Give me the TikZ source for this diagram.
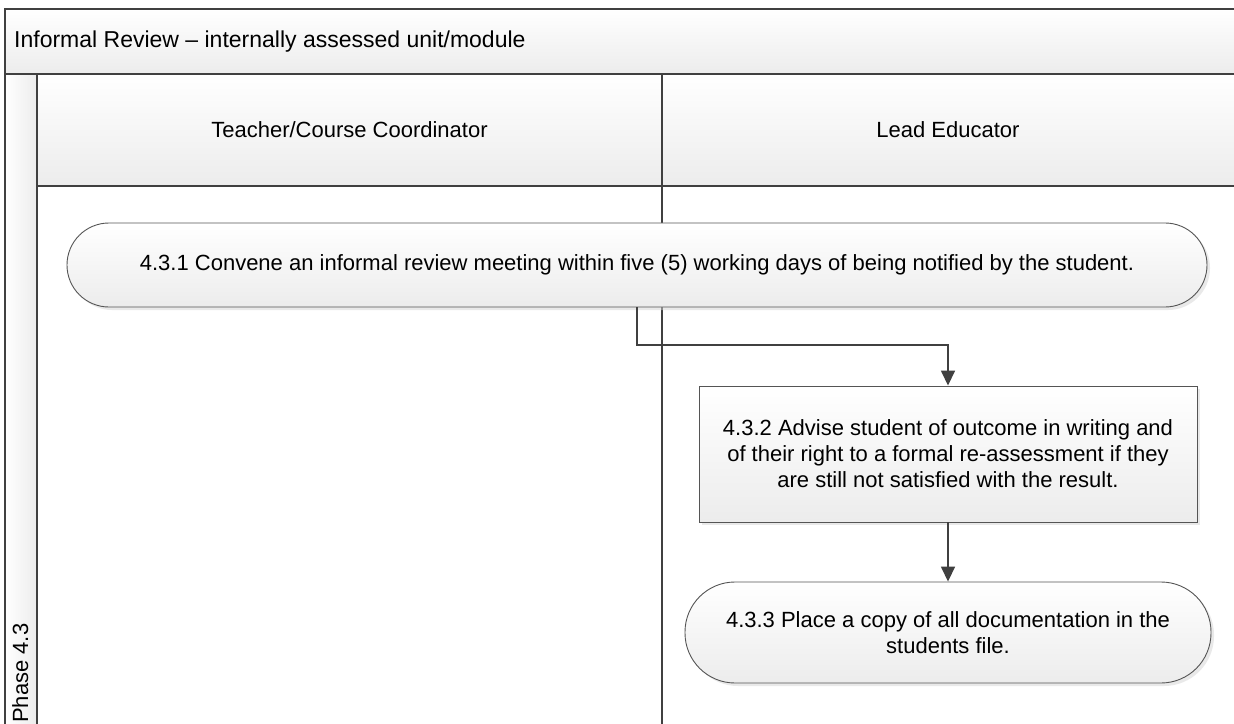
\documentclass[tikz,border=0pt]{standalone}
\usepackage{fontspec}
\setmainfont{Liberation Sans}
\usetikzlibrary{shadows,arrows.meta}
\definecolor{linec}{HTML}{404040}
\definecolor{boxline}{HTML}{555555}
\definecolor{fillb}{HTML}{ECECEC}
\definecolor{shadowc}{HTML}{D4D4D4}
\begin{document}
\begin{tikzpicture}[x=1bp,y=-1bp,
  txt/.style={font=\fontsize{22bp}{26bp}\selectfont, text=black},
  frameline/.style={draw=linec, line width=1.5bp},
  proc/.style={txt, draw=boxline, line width=0.9bp, top color=white, bottom color=fillb,
    align=center, inner sep=0pt,
    drop shadow={shadow xshift=3bp, shadow yshift=-3bp, fill=shadowc}},
  term/.style={proc, rounded corners=#1},
  flow/.style={draw=linec, line width=1.6bp, -{Triangle[width=14bp,length=15bp]}}
]
\useasboundingbox (0,0) rectangle (1234,724);
\clip (0,0) rectangle (1234,724);
\fill[white] (0,0) rectangle (1234,724);
% bands
\fill[top color=white, bottom color=fillb] (5,9) rectangle (1240,74);
\fill[left color=white, right color=fillb] (5,74) rectangle (37,730);
\fill[top color=white, bottom color=fillb] (37,74) rectangle (1240,186);
% frame lines
\draw[frameline] (1240,9) -- (5,9) -- (5,730);
\draw[frameline] (5,74) -- (1240,74);
\draw[frameline] (37,74) -- (37,730);
\draw[frameline] (37,186) -- (1240,186);
\draw[frameline] (662,74) -- (662,730);
% texts of the frame
\node[txt, font=\fontsize{23bp}{27bp}\selectfont, anchor=west, inner sep=0pt] (title) at (14,42) {Informal Review – internally assessed unit/module};
\node[txt] (lane1) at (349.5,130) {Teacher/Course Coordinator};
\node[txt] (lane2) at (948,130) {Lead Educator};
\node[txt, rotate=90, anchor=base west, inner sep=0pt] (phase) at (28,723) {Phase 4.3};
% process nodes
\node[term=42bp, minimum width=1140bp, minimum height=84bp] (n431) at (637,265)
  {4.3.1 Convene an informal review meeting within five (5) working days of being notified by the student.};
\node[proc, minimum width=498bp, minimum height=136bp] (n432) at (948,454)
  {4.3.2 Advise student of outcome in writing and\\of their right to a formal re-assessment if they\\are still not satisfied with the result.};
\node[term=50bp, minimum width=526bp, minimum height=101bp] (n433) at (948,632.5)
  {4.3.3 Place a copy of all documentation in the\\students file.};
% connectors
\coordinate (bend) at (637,345);
\draw[flow] (n431.south) -- (bend) -| (n432.north);
\draw[flow] (n432.south) -- (n433.north);
\end{tikzpicture}
\end{document}
